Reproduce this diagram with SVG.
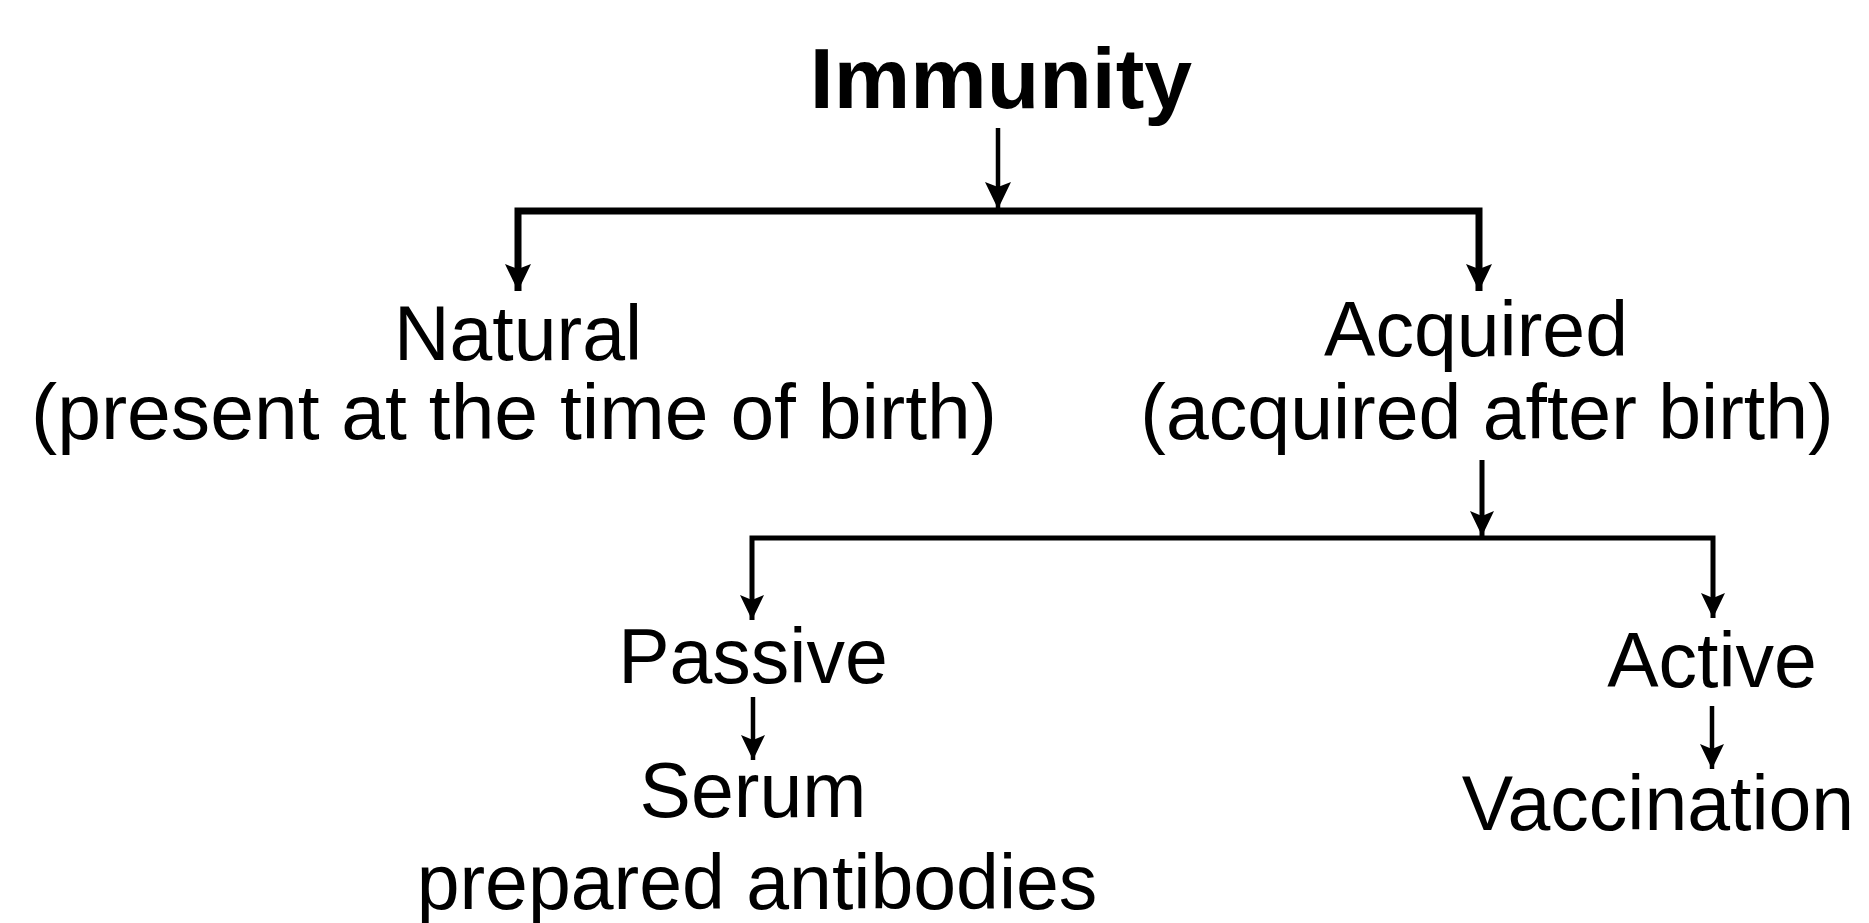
<svg xmlns="http://www.w3.org/2000/svg" width="1869" height="923" viewBox="0 0 1869 923">
<style>
.t{font-family:"Liberation Sans",Arial,sans-serif;font-size:77px;fill:#000;text-anchor:middle}
.b{font-weight:bold;font-size:86px}
.c{fill:none;stroke:#000;stroke-linejoin:miter}
</style>
<defs>
<marker id="ah" markerUnits="userSpaceOnUse" markerWidth="30" markerHeight="30" refX="27" refY="15" orient="auto">
<path d="M0,2 L27,15 L0,28 L5,15 Z" fill="#000"/>
</marker>
<marker id="ahs" markerUnits="userSpaceOnUse" markerWidth="28" markerHeight="28" refX="25" refY="14" orient="auto">
<path d="M0,2 L25,14 L0,26 L5,14 Z" fill="#000"/>
</marker>
</defs>
<rect width="1869" height="923" fill="#fff"/>
<g id="connectors">
<path class="c" d="M998,128 V209" stroke-width="4.5" marker-end="url(#ah)"/>
<path class="c" d="M999,211 H518 V291" stroke-width="7" marker-end="url(#ah)"/>
<path class="c" d="M999,211 H1479 V291" stroke-width="7" marker-end="url(#ah)"/>
<path class="c" d="M1482,460 V536" stroke-width="5" marker-end="url(#ahs)"/>
<path class="c" d="M1482,538 H752 V620" stroke-width="5" marker-end="url(#ahs)"/>
<path class="c" d="M1482,538 H1713 V618" stroke-width="5" marker-end="url(#ahs)"/>
<path class="c" d="M753,697 V760" stroke-width="4.5" marker-end="url(#ahs)"/>
<path class="c" d="M1712,706 V769" stroke-width="4.5" marker-end="url(#ahs)"/>
</g>
<g id="immunity"><text class="t b" x="1001" y="108">Immunity</text></g>
<g id="natural">
<text class="t" x="518" y="360">Natural</text>
<text class="t" x="514" y="439" textLength="966" lengthAdjust="spacingAndGlyphs">(present at the time of birth)</text>
</g>
<g id="acquired">
<text class="t" x="1476" y="356">Acquired</text>
<text class="t" x="1487" y="439">(acquired after birth)</text>
</g>
<g id="passive"><text class="t" x="753" y="683">Passive</text></g>
<g id="serum">
<text class="t" x="753" y="817">Serum</text>
<text class="t" x="757" y="909">prepared antibodies</text>
</g>
<g id="active"><text class="t" x="1712" y="687">Active</text></g>
<g id="vaccination"><text class="t" x="1658" y="830">Vaccination</text></g>
</svg>
